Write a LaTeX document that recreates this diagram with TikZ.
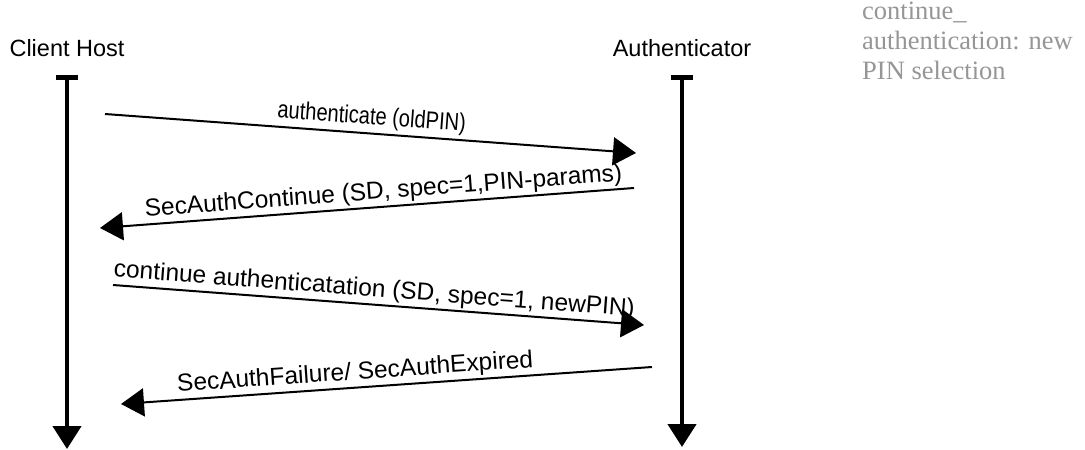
\documentclass[tikz,border=0pt]{standalone}
\usepackage{fontspec}
\usepackage{graphicx}
\setmainfont{Liberation Sans}
\newfontfamily\notefont{Liberation Serif}
\definecolor{notegris}{RGB}{150, 150, 150}
\usetikzlibrary{arrows.meta}
\usetikzlibrary{positioning}

\tikzset{
    lifeline/.style={line width=4.5pt, {Bar[width=22pt]}-{Triangle[length=23pt, width=28pt]}},
    msg/.style={line width=2pt, -{Triangle[length=23pt, width=28pt]}},
    msglabel/.style={sloped, above, inner sep=2pt, font=\fontsize{24.5}{28}\selectfont},
    entity/.style={font=\fontsize{23.5}{28}\selectfont, inner sep=0pt}
}

\begin{document}
\begin{tikzpicture}[x=1pt, y=-1pt]
    \useasboundingbox (0,0) rectangle (1085,450);

    % Entities
    \node[entity] (host) at (67,48) {Client Host};
    \node[entity] (auth) at (682,48) {Authenticator};

    % Lifelines
    \coordinate (host-top) at (67,75);
    \coordinate (host-bot) at (67,449);
    \coordinate (auth-top) at (682,75);
    \coordinate (auth-bot) at (682,447);
    \draw[lifeline] (host-top) -- (host-bot);
    \draw[lifeline] (auth-top) -- (auth-bot);

    % Message end points
    \coordinate (m1-s) at (105,114);
    \coordinate (m1-e) at (636,153);
    \coordinate (m2-s) at (634,188);
    \coordinate (m2-e) at (100,228);
    \coordinate (m3-s) at (113,285);
    \coordinate (m3-e) at (644,325);
    \coordinate (m4-s) at (652,367);
    \coordinate (m4-e) at (121,404);

    % Messages
    \draw[msg] (m1-s) -- node[msglabel, inner sep=3pt] {\scalebox{0.82}[1]{authenticate (oldPIN)}} (m1-e);
    \draw[msg] (m2-s) -- node[msglabel, pos=0.467] {SecAuthContinue (SD, spec=1,PIN-params)} (m2-e);
    \draw[msg] (m3-s) -- node[msglabel, pos=0.49] {continue authenticatation (SD, spec=1, newPIN)} (m3-e);
    \draw[msg] (m4-s) -- node[msglabel, pos=0.557] {SecAuthFailure/ SecAuthExpired} (m4-e);

    % Side note
    \node[anchor=north west, align=left, inner sep=0pt, text=notegris,
          font=\notefont\fontsize{26.5}{29.7}\selectfont] (note) at (862,2)
        {continue\_\\authentication: new\\PIN selection};
\end{tikzpicture}
\end{document}
